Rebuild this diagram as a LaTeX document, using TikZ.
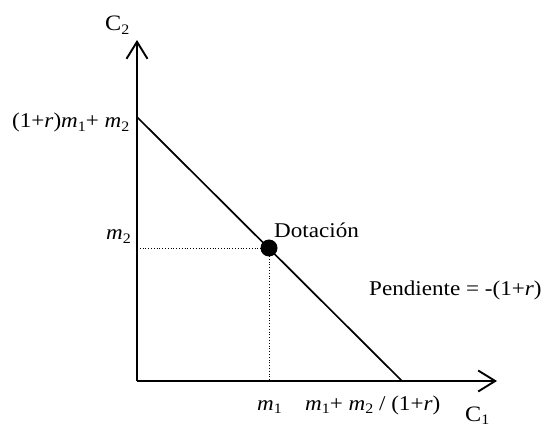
\documentclass[tikz,border=0pt]{standalone}
\usepackage{fontspec}
\setmainfont{Liberation Serif}[FakeStretch=1.1]
\usetikzlibrary{arrows.meta}
\newcommand\lsub[1]{\raisebox{-0.35ex}{\fontsize{14.5}{14.5}\selectfont #1}}
\begin{document}
\begin{tikzpicture}[x=1pt,y=-1pt,
  lbl/.style={anchor=base west,inner sep=0pt,font=\fontsize{21}{25}\selectfont},
  axlbl/.style={anchor=base west,inner sep=0pt,font=\fontsize{22}{26}\selectfont},
  axis/.style={line width=1.9pt,-{Straight Barb[length=17pt,width=21pt,line width=1.9pt]}},
  guide/.style={dotted,line width=0.8pt},
  budget/.style={line width=1.7pt}]
\useasboundingbox (0,0) rectangle (546,430);
\coordinate (O) at (137,381);
\coordinate (ytip) at (137,40);
\coordinate (xtip) at (497,381);
\coordinate (A) at (137,117);
\coordinate (B) at (402,381);
\coordinate (E) at (269,248);
\coordinate (Ey) at (137,248);
\coordinate (Ex) at (269,381);
\draw[guide] (Ey) -- (E) -- (Ex);
\draw[budget] (A) -- (B);
\draw[axis] (O) -- (ytip);
\draw[axis] (O) -- (xtip);
\fill (E) circle (8.5);
\node[axlbl] (c2) at (105,31) {C\lsub{2}};
\node[axlbl] (c1) at (465,421) {C\lsub{1}};
\node[lbl] (a) at (12,128) {(1+\textit{r})\textit{m}\lsub{1}+ \textit{m}\lsub{2}};
\node[lbl] (m2) at (106,240) {\textit{m}\lsub{2}};
\node[lbl] (dot) at (274,238) {Dotación};
\node[lbl] (pend) at (369,296) {Pendiente = -(1+\textit{r})};
\node[lbl] (m1) at (257,410) {\textit{m}\lsub{1}};
\node[lbl] (b) at (305,410) {\textit{m}\lsub{1}+ \textit{m}\lsub{2} / (1+\textit{r})};
\end{tikzpicture}
\end{document}
